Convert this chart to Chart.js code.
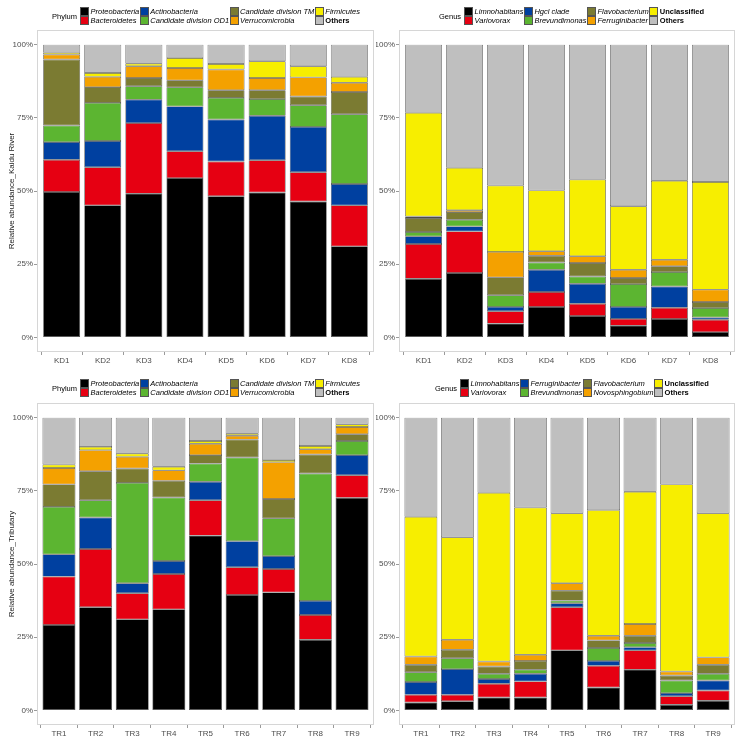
<!DOCTYPE html>
<html>
<head>
<meta charset="utf-8">
<script src="https://cdn.jsdelivr.net/npm/chart.js@4"></script>
<style>
  body { margin: 0; background: #fff; }
  #page { position: relative; width: 744px; height: 742px; overflow: hidden; }
  canvas { position: absolute; }
  .legend { position: absolute; z-index: 2; display: flex; align-items: center;
            font: 7.5px "Liberation Sans", Arial, sans-serif; color: #000; }
  .legend .ttl { margin-right: 3px; color: #000; }
  .legend .grid { display: grid; grid-template-rows: 9px 9px; grid-auto-flow: column; column-gap: 0.5px; }
  .legend .item { display: flex; align-items: center; white-space: nowrap; color: #000; }
  .legend .key { width: 7px; height: 7px; border: 0.8px solid #555; margin-right: 1.5px; }
  .legend .lbl { font-style: italic; }
  .legend .lbl.b { font-style: normal; font-weight: bold; }
</style>
</head>
<body>
<div id="page">
  <canvas id="c1" width="376" height="371" style="left:0;top:0"></canvas>
  <canvas id="c2" width="368" height="371" style="left:376px;top:0"></canvas>
  <canvas id="c3" width="376" height="371" style="left:0;top:371px"></canvas>
  <canvas id="c4" width="368" height="371" style="left:376px;top:371px"></canvas>
  <div class="legend" id="leg1" style="left:52px;top:7px"></div>
  <div class="legend" id="leg2" style="left:439px;top:7px"></div>
  <div class="legend" id="leg3" style="left:52px;top:379px"></div>
  <div class="legend" id="leg4" style="left:435px;top:379px"></div>
</div>
<script>
// sites
const kdSites = ["KD1", "KD2", "KD3", "KD4", "KD5", "KD6", "KD7", "KD8"];
const trSites = ["TR1", "TR2", "TR3", "TR4", "TR5", "TR6", "TR7", "TR8", "TR9"];
const yTicks = [0, 25, 50, 75, 100];

// legend names (bottom of stack first)
const phylumNames = ["Proteobacteria", "Bacteroidetes", "Actinobacteria", "Candidate division OD1",
  "Candidate division TM", "Verrucomicrobia", "Firmicutes", "Others"];
const kdGenusNames = ["Limnohabitans", "Variovorax", "Hgcl clade", "Brevundimonas",
  "Flavobacterium", "Ferruginibacter", "Unclassified", "Others"];
const trGenusNames = ["Limnohabitans", "Variovorax", "Ferruginibacter", "Brevundimonas",
  "Flavobacterium", "Novosphingobium", "Unclassified", "Others"];
const boldNames = ["Others", "Unclassified"];

const colors = ["#000000", "#e60012", "#0040a0", "#5cb531", "#7b7b32", "#f4a100", "#f7ee00", "#bfbfbf"];

// relative abundance (%), one row per taxon, one value per site
const kdPhylum = [
  [49.7, 45.1, 49.1, 54.4, 48.2, 49.5, 46.4, 31.1],
  [11.0, 13.0, 24.1, 9.2, 11.9, 11.0, 10.0, 14.0],
  [6.0, 9.0, 8.0, 15.3, 14.3, 15.2, 15.5, 7.3],
  [5.7, 13.0, 4.6, 6.5, 7.4, 5.7, 7.4, 23.8],
  [22.5, 5.4, 2.8, 2.4, 2.6, 3.0, 3.0, 7.6],
  [1.7, 3.5, 4.0, 4.2, 7.1, 4.2, 6.5, 3.2],
  [0.6, 1.3, 0.9, 3.4, 1.9, 5.7, 3.8, 2.0],
  [2.8, 9.7, 6.5, 4.6, 6.6, 5.7, 7.4, 11.0]
];
const kdGenus = [
  [20.0, 22.0, 4.7, 10.4, 7.3, 4.0, 6.3, 1.8],
  [11.9, 14.2, 4.2, 5.1, 4.2, 2.3, 3.8, 4.2],
  [2.6, 1.7, 1.5, 7.6, 6.8, 4.1, 7.3, 0.8],
  [1.5, 2.3, 4.0, 2.5, 2.5, 7.8, 4.9, 3.2],
  [4.8, 2.6, 6.1, 2.3, 4.6, 2.1, 2.0, 2.1],
  [0.5, 0.6, 8.7, 1.5, 2.3, 2.8, 2.2, 4.2],
  [35.4, 14.5, 22.7, 20.8, 26.2, 21.7, 27.0, 36.8],
  [23.3, 42.1, 48.1, 49.8, 46.1, 55.2, 46.5, 46.9]
];
const trPhylum = [
  [29.2, 35.2, 31.1, 34.5, 59.7, 39.4, 40.3, 24.1, 72.6],
  [16.5, 19.9, 8.9, 12.1, 12.1, 9.5, 8.0, 8.5, 7.7],
  [7.6, 10.8, 3.4, 4.4, 6.3, 8.9, 4.4, 4.8, 6.9],
  [16.2, 5.9, 34.3, 21.7, 6.2, 28.6, 12.9, 43.5, 4.8],
  [7.7, 9.9, 4.9, 5.7, 2.9, 6.1, 6.6, 6.5, 2.3],
  [5.6, 7.2, 4.0, 3.6, 3.9, 1.3, 12.6, 1.8, 2.5],
  [1.2, 1.1, 1.1, 1.2, 0.9, 0.7, 0.7, 1.1, 0.9],
  [16.0, 10.0, 12.3, 16.8, 8.0, 5.5, 14.5, 9.7, 2.3]
];
const trGenus = [
  [2.7, 3.1, 4.4, 4.4, 20.5, 7.8, 13.9, 1.9, 3.3],
  [2.6, 2.2, 4.7, 5.5, 14.7, 7.4, 6.6, 2.9, 3.5],
  [4.4, 8.8, 1.6, 2.6, 1.4, 1.7, 1.1, 1.1, 3.4],
  [3.3, 3.7, 1.8, 1.4, 0.9, 4.4, 1.4, 4.3, 2.3],
  [2.6, 2.9, 2.5, 3.0, 3.4, 2.6, 2.5, 1.7, 3.1],
  [2.8, 3.4, 1.7, 2.1, 2.5, 1.6, 4.0, 1.4, 2.5],
  [47.7, 35.0, 57.6, 50.3, 23.9, 42.9, 45.2, 63.9, 49.2],
  [33.9, 40.9, 25.7, 30.7, 32.7, 31.6, 25.3, 22.8, 32.7]
];

const FONT = "'Liberation Sans', Arial, sans-serif";

// light grey frame around the plotting panel
const panelBorder = {
  id: "panelBorder",
  afterDraw(chart) {
    const a = chart.chartArea;
    const ctx = chart.ctx;
    ctx.save();
    ctx.strokeStyle = "#d6d6d6";
    ctx.lineWidth = 1;
    ctx.strokeRect(Math.round(a.left) + 0.5, Math.round(a.top) + 0.5,
      Math.round(a.right - a.left) - 1, Math.round(a.bottom - a.top) - 1);
    ctx.restore();
  }
};

function buildLegend(id, title, names) {
  const el = document.getElementById(id);
  let html = '<div class="ttl">' + title + '</div><div class="grid">';
  names.forEach((n, i) => {
    const cls = boldNames.includes(n) ? "lbl b" : "lbl";
    html += '<div class="item"><div class="key" style="background:' + colors[i] +
      '"></div><span class="' + cls + '">' + n + "</span></div>";
  });
  el.innerHTML = html + "</div>";
}

function makePanel(canvasId, sites, names, rows, opts) {
  const datasets = rows.map((row, k) => ({
    label: names[k],
    data: sites.map((s, i) => ({ x: i + 1, y: row[i] })),
    backgroundColor: colors[k],
    borderColor: "#4d4d4d",
    borderWidth: 0.7,
    borderSkipped: false,
    barPercentage: 0.9,
    categoryPercentage: 1.0
  }));
  return new Chart(document.getElementById(canvasId), {
    type: "bar",
    data: { datasets: datasets },
    plugins: [panelBorder],
    options: {
      responsive: false,
      animation: false,
      devicePixelRatio: 1,
      layout: { padding: { top: opts.top, right: opts.right, left: 0, bottom: 0 } },
      plugins: { legend: { display: false }, tooltip: { enabled: false } },
      scales: {
        x: {
          type: "linear",
          stacked: true,
          min: 0.4,
          max: sites.length + 0.6,
          offset: false,
          afterBuildTicks: (scale) => { scale.ticks = sites.map((s, i) => ({ value: i + 1 })); },
          afterFit: (scale) => { scale.height = opts.xh; },
          ticks: {
            autoSkip: false, maxRotation: 0, padding: 1,
            color: "#4d4d4d", font: { family: FONT, size: 8 },
            callback: (v) => sites[v - 1]
          },
          grid: { drawOnChartArea: false, drawTicks: true, tickLength: 3, color: "#555", lineWidth: 0.6 },
          border: { display: false }
        },
        y: {
          stacked: true,
          min: -5,
          max: 105,
          afterBuildTicks: (scale) => { scale.ticks = yTicks.map((v) => ({ value: v })); },
          afterFit: (scale) => { scale.width = opts.yw; },
          ticks: {
            padding: 1, color: "#4d4d4d", font: { family: FONT, size: 8 },
            callback: (v) => v + "%"
          },
          grid: { drawOnChartArea: false, drawTicks: true, tickLength: 3, color: "#555", lineWidth: 0.6 },
          border: { display: false },
          title: {
            display: !!opts.yTitle, text: opts.yTitle || "",
            color: "#222", font: { family: FONT, size: 8 }, padding: { top: 7, bottom: 0 }
          }
        }
      }
    }
  });
}

buildLegend("leg1", "Phylum", phylumNames);
buildLegend("leg2", "Genus", kdGenusNames);
buildLegend("leg3", "Phylum", phylumNames);
buildLegend("leg4", "Genus", trGenusNames);

makePanel("c1", kdSites, phylumNames, kdPhylum,
  { top: 30, right: 2, xh: 19, yw: 37, yTitle: "Relative abundance_Kaidu River" });
makePanel("c2", kdSites, kdGenusNames, kdGenus,
  { top: 30, right: 9, xh: 19, yw: 23 });
makePanel("c3", trSites, phylumNames, trPhylum,
  { top: 32, right: 2, xh: 17, yw: 37, yTitle: "Relative abundance_Tributary" });
makePanel("c4", trSites, trGenusNames, trGenus,
  { top: 32, right: 9, xh: 17, yw: 23 });
</script>
</body>
</html>
